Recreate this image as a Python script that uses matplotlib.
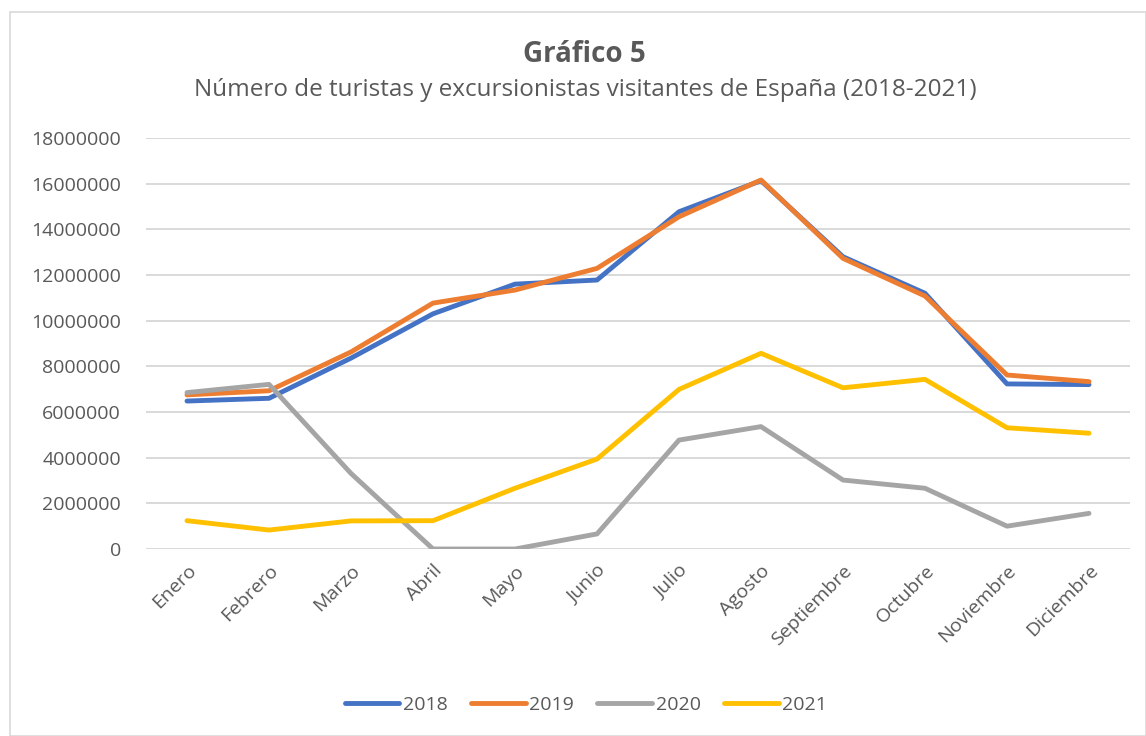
import matplotlib.pyplot as plt
from matplotlib.patches import Rectangle

months = ['Enero', 'Febrero', 'Marzo', 'Abril', 'Mayo', 'Junio', 'Julio',
          'Agosto', 'Septiembre', 'Octubre', 'Noviembre', 'Diciembre']

# visitantes por mes y año
v2018 = [6480000, 6600000, 8360000, 10300000, 11600000, 11780000,
         14770000, 16130000, 12800000, 11200000, 7230000, 7200000]
v2019 = [6750000, 6930000, 8630000, 10770000, 11340000, 12290000,
         14550000, 16160000, 12730000, 11080000, 7620000, 7330000]
v2020 = [6850000, 7210000, 3310000, 0, 0, 660000,
         4770000, 5360000, 3020000, 2660000, 1000000, 1560000]
v2021 = [1240000, 830000, 1230000, 1240000, 2660000, 3940000,
         6990000, 8570000, 7060000, 7430000, 5310000, 5070000]

years = ['2018', '2019', '2020', '2021']
colors = ['#4472C4', '#ED7D31', '#A5A5A5', '#FFC000']
yticks = list(range(0, 18000001, 2000000))

plt.rcParams['font.family'] = ['Open Sans', 'DejaVu Sans']
txt = '#595959'

fig = plt.figure(figsize=(11.46, 7.36), dpi=100)
# chart border
fig.patches.append(Rectangle((10 / 1146, 0), 1 - 10 / 1146, 1 - 12 / 736,
                             transform=fig.transFigure, fill=False,
                             edgecolor='#d9d9d9', linewidth=1.2))

ax = fig.add_axes([146 / 1146, 1 - 549 / 736, (1130 - 146) / 1146, (549 - 138) / 736])

for vals, name, c in zip([v2018, v2019, v2020, v2021], years, colors):
    ax.plot(range(len(months)), vals, color=c, linewidth=3.5, label=name,
            solid_capstyle='round', solid_joinstyle='round')

ax.set_xlim(-0.5, len(months) - 0.5)
ax.set_ylim(0, 18000000)
ax.set_yticks(yticks)
ax.set_yticklabels([str(t) for t in yticks], fontsize=14, color=txt)
ax.set_xticks(range(len(months)))
ax.set_xticklabels(months, rotation=45, ha='right', rotation_mode='anchor',
                   fontsize=14, color=txt)
ax.tick_params(length=0, axis='y', pad=18)
ax.tick_params(length=0, axis='x', pad=9)
ax.grid(axis='y', color='#d9d9d9', linewidth=1.4)
ax.set_axisbelow(True)
for s in ax.spines.values():
    s.set_visible(False)

fig.text(584 / 1146, 1 - 54 / 736, 'Gráfico 5', ha='center', va='center',
         fontsize=20, fontweight='bold', color=txt)
fig.text(585 / 1146, 1 - 90 / 736,
         'Número de turistas y excursionistas visitantes de España (2018-2021)',
         ha='center', va='center', fontsize=17.5, color=txt)

ax.legend(loc='center', bbox_to_anchor=(586 / 1146, 1 - 705 / 736),
          bbox_transform=fig.transFigure, ncol=4, frameon=False,
          fontsize=14, labelcolor=txt, handlelength=2.8, columnspacing=1.2,
          handletextpad=0.2)

fig.savefig('out.png', dpi=100)
